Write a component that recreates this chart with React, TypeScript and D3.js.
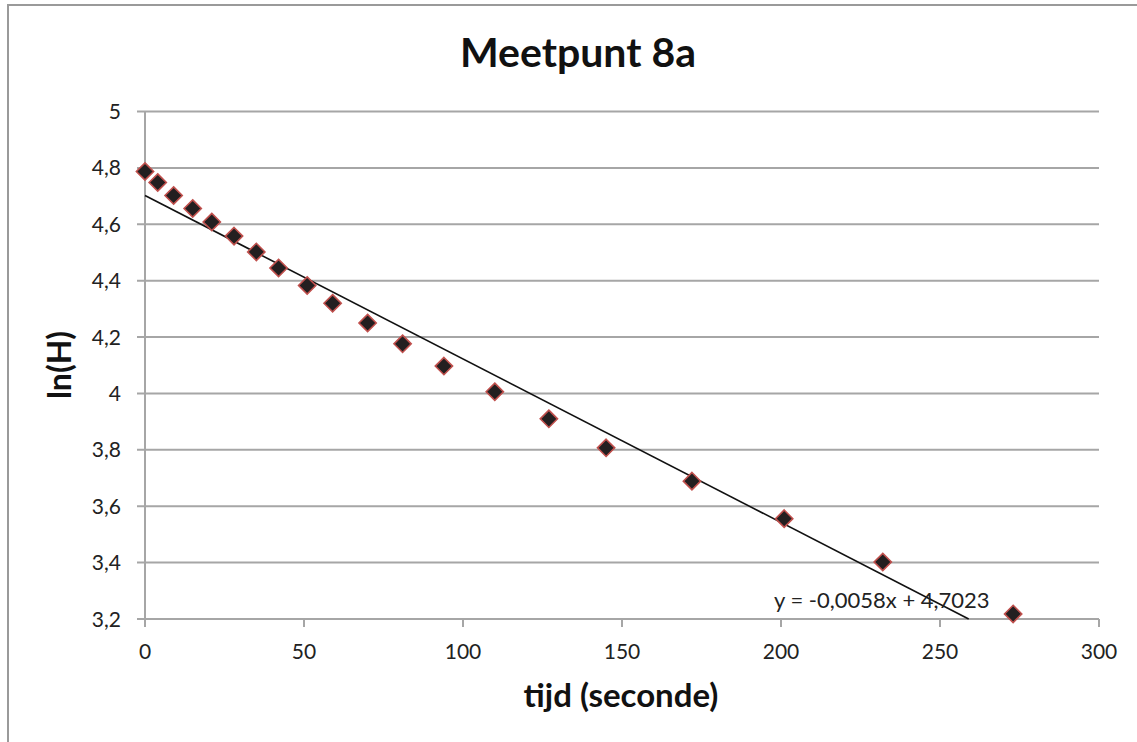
import React, { useEffect, useRef } from 'react';
import * as d3 from 'd3';

// measurements: time (s) and ln(H)
const tijd = [0, 4, 9, 15, 21, 28, 35, 42, 51, 59, 70, 81, 94, 110, 127, 145, 172, 201, 232, 273];
const lnH = [4.787, 4.748, 4.702, 4.656, 4.608, 4.558, 4.502, 4.445, 4.383, 4.32, 4.25, 4.176, 4.097, 4.006, 3.91, 3.807, 3.689, 3.556, 3.402, 3.218];
const xTicks = [0, 50, 100, 150, 200, 250, 300];
const yTicks = [3.2, 3.4, 3.6, 3.8, 4, 4.2, 4.4, 4.6, 4.8, 5];
const slope = -0.0058;
const intercept = 4.7023;

const W = 1137;
const H = 742;
const FONT = 'Lato, "Open Sans", sans-serif';
const fmt = (v: number) => String(v).replace('.', ',');

const App = () => {
  const svgRef = useRef<SVGSVGElement | null>(null);

  useEffect(() => {
    const svg = d3.select(svgRef.current);
    svg.selectAll('*').remove();

    const left = 145, right = 1099, top = 111.5, bottom = 619;
    const x = d3.scaleLinear().domain([0, 300]).range([left, right]);
    const y = d3.scaleLinear().domain([3.2, 5]).range([bottom, top]);

    // outer chart border
    svg.append('path')
      .attr('d', `M8,${H} L8,5 L${W},5`)
      .attr('fill', 'none')
      .attr('stroke', '#9a9a9a')
      .attr('stroke-width', 2);

    // gridlines
    svg.append('g')
      .selectAll('line')
      .data(yTicks)
      .enter()
      .append('line')
      .attr('x1', left - 8)
      .attr('x2', right)
      .attr('y1', d => y(d))
      .attr('y2', d => y(d))
      .attr('stroke', '#a6a6a6')
      .attr('stroke-width', 2);

    // y axis line
    svg.append('line')
      .attr('x1', left).attr('x2', left)
      .attr('y1', top).attr('y2', bottom + 8)
      .attr('stroke', '#a6a6a6').attr('stroke-width', 2);

    // x ticks
    svg.append('g')
      .selectAll('line')
      .data(xTicks)
      .enter()
      .append('line')
      .attr('x1', d => x(d)).attr('x2', d => x(d))
      .attr('y1', bottom).attr('y2', bottom + 8)
      .attr('stroke', '#a6a6a6').attr('stroke-width', 2);

    // tick labels
    svg.append('g')
      .selectAll('text')
      .data(yTicks)
      .enter()
      .append('text')
      .attr('x', left - 24)
      .attr('y', d => y(d))
      .attr('dy', '0.36em')
      .attr('text-anchor', 'end')
      .attr('font-family', FONT)
      .attr('font-size', 21)
      .attr('fill', '#222')
      .text(d => fmt(d));

    svg.append('g')
      .selectAll('text')
      .data(xTicks)
      .enter()
      .append('text')
      .attr('x', d => x(d))
      .attr('y', bottom + 40)
      .attr('text-anchor', 'middle')
      .attr('font-family', FONT)
      .attr('font-size', 21)
      .attr('fill', '#222')
      .text(d => fmt(d));

    // trendline, clipped at the bottom of the plot
    const xEnd = (3.2 - intercept) / slope;
    svg.append('line')
      .attr('x1', x(0)).attr('y1', y(intercept))
      .attr('x2', x(xEnd)).attr('y2', y(3.2))
      .attr('stroke', '#111').attr('stroke-width', 1.6);

    // diamond markers
    const diamond = d3.symbol().type(d3.symbolDiamond2).size(190);
    svg.append('g')
      .selectAll('path')
      .data(tijd.map((t, i) => ({ t, v: lnH[i] })))
      .enter()
      .append('path')
      .attr('d', diamond)
      .attr('transform', d => `translate(${x(d.t)},${y(d.v)})`)
      .attr('fill', '#231f20')
      .attr('stroke', '#c0504d')
      .attr('stroke-width', 1.6);

    // equation label
    svg.append('text')
      .attr('x', 774)
      .attr('y', 608)
      .attr('font-family', FONT)
      .attr('font-size', 22)
      .attr('fill', '#222')
      .text('y = -0,0058x + 4,7023');

    // titles
    svg.append('text')
      .attr('x', 578)
      .attr('y', 67)
      .attr('text-anchor', 'middle')
      .attr('font-family', FONT)
      .attr('font-weight', 'bold')
      .attr('font-size', 41)
      .attr('fill', '#111')
      .text('Meetpunt 8a');

    svg.append('text')
      .attr('x', 621)
      .attr('y', 707)
      .attr('text-anchor', 'middle')
      .attr('font-family', FONT)
      .attr('font-weight', 'bold')
      .attr('font-size', 33)
      .attr('fill', '#111')
      .text('tijd (seconde)');

    svg.append('text')
      .attr('transform', `translate(71,365) rotate(-90)`)
      .attr('text-anchor', 'middle')
      .attr('font-family', FONT)
      .attr('font-weight', 'bold')
      .attr('font-size', 32)
      .attr('fill', '#111')
      .text('ln(H)');
  }, []);

  return (
    <svg
      ref={svgRef}
      width={W}
      height={H}
      style={{ position: 'absolute', left: 0, top: 0, background: '#fff' }}
    />
  );
};

export default App;
